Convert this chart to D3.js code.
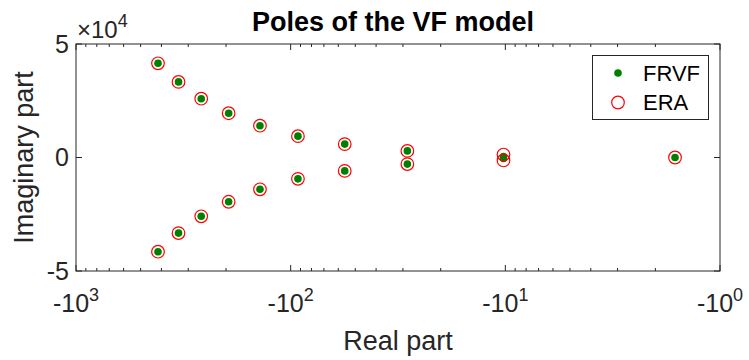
<!DOCTYPE html>
<html lang="en">
<head>
<meta charset="utf-8">
<title>Poles of the VF model</title>
<script src="https://d3js.org/d3.v7.min.js"></script>
<style>
  body { margin: 0; background: #fff; }
  text { font-family: "Liberation Sans", Arial, Helvetica, sans-serif; }
</style>
</head>
<body>
<script>
// pole locations (imaginary parts in units of 1e4)
var frvfReal = [-415, -415, -333, -333, -261, -261, -194.5, -194.5, -139, -139, -92.5, -92.5, -56, -56, -28.6, -28.6, -10.2, -10.2, -1.62];
var frvfImag = [4.15, -4.15, 3.33, -3.33, 2.59, -2.59, 1.95, -1.95, 1.40, -1.40, 0.94, -0.94, 0.59, -0.59, 0.29, -0.29, 0.04, -0.04, 0];
var eraReal = [-415, -415, -333, -333, -261, -261, -194.5, -194.5, -139, -139, -92.5, -92.5, -56, -56, -28.6, -28.6, -10.2, -10.2, -1.62];
var eraImag = [4.15, -4.15, 3.33, -3.33, 2.59, -2.59, 1.95, -1.95, 1.40, -1.40, 0.94, -0.94, 0.59, -0.59, 0.29, -0.29, 0.13, -0.13, 0];
var xTickExp = [3, 2, 1, 0];
var yTicks = [-5, 0, 5];
var seriesNames = ["FRVF", "ERA"];

var W = 749, H = 360;
var m = { left: 76, right: 720, top: 44, bottom: 271 };

var svg = d3.select("body").append("svg")
    .attr("width", W).attr("height", H);

var x = d3.scaleLog().domain([-1000, -1]).range([m.left, m.right]);
var y = d3.scaleLinear().domain([-5, 5]).range([m.bottom, m.top]);

var axisColor = "#262626";

// box
svg.append("rect")
    .attr("x", m.left).attr("y", m.top)
    .attr("width", m.right - m.left).attr("height", m.bottom - m.top)
    .attr("fill", "none").attr("stroke", axisColor).attr("stroke-width", 1);

// x ticks (major + minor), inward, top and bottom
var majorX = xTickExp.map(function (e) { return -Math.pow(10, e); });
var minorX = x.ticks().filter(function (v) {
    return majorX.indexOf(v) < 0;
});
var tickG = svg.append("g").attr("stroke", axisColor).attr("stroke-width", 1);
majorX.forEach(function (v) {
    tickG.append("line").attr("x1", x(v)).attr("x2", x(v)).attr("y1", m.bottom).attr("y2", m.bottom - 6);
    tickG.append("line").attr("x1", x(v)).attr("x2", x(v)).attr("y1", m.top).attr("y2", m.top + 6);
});
minorX.forEach(function (v) {
    tickG.append("line").attr("x1", x(v)).attr("x2", x(v)).attr("y1", m.bottom).attr("y2", m.bottom - 3);
    tickG.append("line").attr("x1", x(v)).attr("x2", x(v)).attr("y1", m.top).attr("y2", m.top + 3);
});
yTicks.forEach(function (v) {
    tickG.append("line").attr("x1", m.left).attr("x2", m.left + 6).attr("y1", y(v)).attr("y2", y(v));
    tickG.append("line").attr("x1", m.right).attr("x2", m.right - 6).attr("y1", y(v)).attr("y2", y(v));
});

// x tick labels with superscripts
xTickExp.forEach(function (e) {
    var t = svg.append("text")
        .attr("x", x(-Math.pow(10, e))).attr("y", 312)
        .attr("text-anchor", "middle")
        .attr("font-size", 25).attr("fill", axisColor);
    t.append("tspan").text("-10");
    t.append("tspan").attr("dy", -11).attr("font-size", 18).text(e);
});

// y tick labels
yTicks.forEach(function (v) {
    svg.append("text")
        .attr("x", m.left - 7).attr("y", y(v)).attr("dy", "0.35em")
        .attr("text-anchor", "end")
        .attr("font-size", 25).attr("fill", axisColor)
        .text(v);
});

// exponent label
var ex = svg.append("text")
    .attr("x", m.left + 1).attr("y", 38)
    .attr("font-size", 24).attr("fill", axisColor);
ex.append("tspan").text("\u00d710");
ex.append("tspan").attr("dy", -11).attr("font-size", 18).text("4");

// axis titles
svg.append("text")
    .attr("x", (m.left + m.right) / 2).attr("y", 350)
    .attr("text-anchor", "middle")
    .attr("font-size", 27).attr("fill", axisColor)
    .text("Real part");
svg.append("text")
    .attr("transform", "translate(33," + ((m.top + m.bottom) / 2) + ") rotate(-90)")
    .attr("text-anchor", "middle")
    .attr("font-size", 27).attr("fill", axisColor)
    .text("Imaginary part");

// title
svg.append("text")
    .attr("x", (m.left + m.right) / 2 - 5).attr("y", 31)
    .attr("text-anchor", "middle")
    .attr("font-size", 27).attr("font-weight", "bold").attr("fill", "#000")
    .text("Poles of the VF model");

// data
var frvf = frvfReal.map(function (r, i) { return { re: r, im: frvfImag[i] }; });
var era = eraReal.map(function (r, i) { return { re: r, im: eraImag[i] }; });

svg.append("g").selectAll("circle")
    .data(frvf)
    .enter().append("circle")
    .attr("cx", function (d) { return x(d.re); })
    .attr("cy", function (d) { return y(d.im); })
    .attr("r", 3.8)
    .attr("fill", "#008000");

svg.append("g").selectAll("circle")
    .data(era)
    .enter().append("circle")
    .attr("cx", function (d) { return x(d.re); })
    .attr("cy", function (d) { return y(d.im); })
    .attr("r", 6.3)
    .attr("fill", "none")
    .attr("stroke", "#ff0000")
    .attr("stroke-width", 1.2);

// legend
var lg = svg.append("g");
lg.append("rect")
    .attr("x", 592.5).attr("y", 55.5).attr("width", 116).attr("height", 64)
    .attr("fill", "#fff").attr("stroke", axisColor).attr("stroke-width", 1);
lg.append("circle").attr("cx", 618).attr("cy", 73).attr("r", 3.8).attr("fill", "#008000");
lg.append("circle").attr("cx", 618).attr("cy", 102.5).attr("r", 6.3)
    .attr("fill", "none").attr("stroke", "#ff0000").attr("stroke-width", 1.2);
seriesNames.forEach(function (n, i) {
    lg.append("text")
        .attr("x", 643).attr("y", 73 + i * 29.5).attr("dy", "0.35em")
        .attr("font-size", 22).attr("fill", "#000")
        .text(n);
});
</script>
</body>
</html>
